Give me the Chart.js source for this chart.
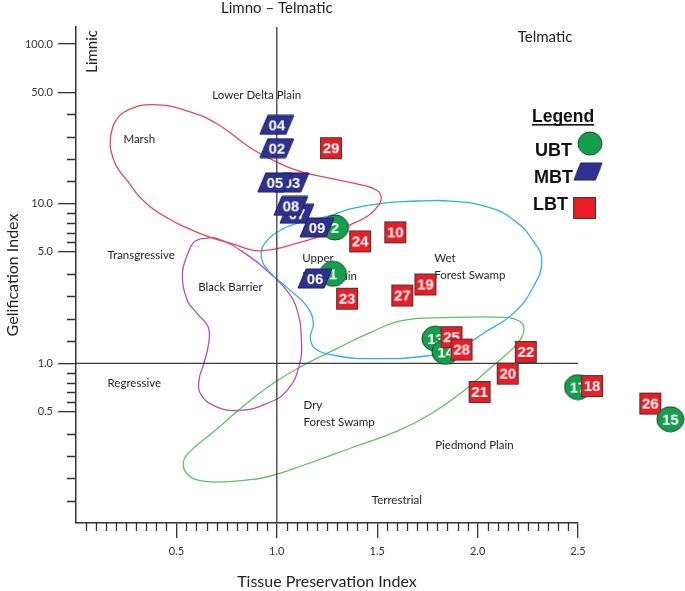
<!DOCTYPE html>
<html lang="en">
<head>
  <meta charset="UTF-8">
  <title>Gelification Index vs Tissue Preservation Index</title>
  <style>
    html, body { margin: 0; padding: 0; background: #fff; }
    #chart { display: block; }
  </style>
</head>
<body>
  <canvas id="chart" width="685" height="591"></canvas>

  <script src="https://cdn.jsdelivr.net/npm/chart.js"></script>
  <script>
    // ---- values ----
    // UBT samples (green circles)
    const ubtLabels = ['2', '1', '13', '14', '17', '15'];
    const ubtTPI    = [1.29, 1.28, 1.79, 1.84, 2.50, 2.96];
    const ubtGI     = [7.1, 3.64, 1.43, 1.18, 0.71, 0.447];
    const ubtFront  = ['15'];            // this one sits over the LBT square next to it

    // MBT samples (blue parallelograms)
    const mbtLabels = ['04', '02', '03', '05', '07', '08', '09', '06'];
    const mbtTPI    = [1.00, 1.00, 1.075, 0.99, 1.10, 1.07, 1.20, 1.19];
    const mbtGI     = [31.2, 22.3, 13.6, 13.6, 8.66, 9.7, 7.1, 3.4];

    // LBT samples (red squares)
    const lbtLabels = ['29', '10', '24', '23', '27', '19', '25', '28', '22', '20', '21', '18', '26'];
    const lbtTPI    = [1.27, 1.59, 1.415, 1.35, 1.625, 1.74, 1.87, 1.92, 2.24, 2.15, 2.01, 2.57, 2.86];
    const lbtGI     = [22.3, 6.62, 5.81, 2.54, 2.66, 3.12, 1.46, 1.22, 1.18, 0.862, 0.662, 0.721, 0.56];

    // facies envelopes (closed outlines)
    const marshTPI = [0.172, 0.197, 0.261, 0.38, 0.555, 0.704, 0.868, 0.958, 1.092, 1.256, 1.425, 1.50, 1.52, 1.505, 1.455, 1.356, 1.226, 1.092, 1.00, 0.893, 0.78, 0.619, 0.420, 0.321, 0.256, 0.20, 0.172, 0.172];
    const marshGI  = [26.6, 33.0, 38.7, 41.8, 38.1, 31.6, 22.4, 19.4, 16.3, 14.5, 13.1, 12.1, 10.9, 9.72, 8.41, 7.29, 6.31, 5.62, 5.23, 5.09, 5.6, 6.49, 8.66, 10.9, 13.9, 17.3, 22.1, 26.6];

    const wetTPI = [1.699, 1.530, 1.366, 1.266, 1.117, 1.032, 0.943, 0.923, 0.958, 1.057, 1.147, 1.182, 1.167, 1.197, 1.291, 1.465, 1.764, 1.913, 2.027, 2.177, 2.276, 2.320, 2.276, 2.192, 2.062, 1.863, 1.699];
    const wetGI  = [10.4, 10.1, 9.30, 8.41, 7.61, 6.98, 5.70, 4.66, 3.81, 2.94, 2.30, 1.80, 1.43, 1.22, 1.12, 1.07, 1.12, 1.26, 1.54, 2.05, 2.99, 4.4, 5.87, 7.7, 9.44, 10.4, 10.4];

    const barrierTPI = [0.619, 0.704, 0.858, 0.978, 1.057, 1.102, 1.122, 1.112, 1.052, 0.953, 0.818, 0.694, 0.619, 0.614, 0.634, 0.659, 0.659, 0.604, 0.555, 0.530, 0.555, 0.585, 0.619];
    const barrierGI  = [6.04, 6.04, 4.73, 3.55, 2.78, 2.14, 1.43, 0.972, 0.678, 0.562, 0.508, 0.538, 0.649, 0.806, 0.972, 1.30, 1.68, 2.05, 2.48, 3.65, 4.80, 5.70, 6.04];

    const dryTPI = [1.878, 2.127, 2.211, 2.231, 2.201, 2.137, 2.062, 1.928, 1.764, 1.600, 1.366, 1.132, 0.968, 0.794, 0.634, 0.555, 0.535, 0.570, 0.684, 0.803, 0.968, 1.132, 1.301, 1.465, 1.629, 1.878];
    const dryGI  = [1.94, 1.94, 1.83, 1.61, 1.35, 1.12, 0.931, 0.668, 0.480, 0.376, 0.294, 0.230, 0.197, 0.183, 0.183, 0.202, 0.241, 0.282, 0.371, 0.501, 0.729, 0.972, 1.24, 1.56, 1.86, 1.94];

    // region captions
    const regionText = ['Lower Delta Plain', 'Marsh', 'Transgressive', 'Black Barrier', 'Regressive', 'Upper', 'Delta Plain',
                        'Wet', 'Forest Swamp', 'Dry', 'Forest Swamp', 'Piedmond Plain', 'Terrestrial'];
    const regionTPI  = [0.679, 0.236, 0.157, 0.609, 0.157, 1.127, 1.127, 1.784, 1.784, 1.133, 1.133, 1.789, 1.473];
    const regionGI   = [48.0, 25.5, 4.73, 2.98, 0.75, 4.53, 3.5, 4.53, 3.55, 0.547, 0.430, 0.307, 0.139];

    // axes
    const xTicks = [0.5, 1.0, 1.5, 2.0, 2.5];
    const yTicks = [0.5, 1, 5, 10, 50, 100];
    const xMin = 0, xMax = 2.5;
    const yMin = 0.1, yMax = 128;
    const refTPI = 1.0, refGI = 1.0;   // the two dividing lines

    const FONT = 'Lato, "Open Sans", sans-serif';
    const BOLD = '"Liberation Sans", Arial, sans-serif';

    // marker images with the sample number written inside
    function markerCanvas(kind, text) {
      const c = document.createElement('canvas');
      let w = 24, h = 24;
      if (kind === 'ubt') { w = 29; h = 27; }
      if (kind === 'mbt') { w = 36; h = 21; }
      c.width = w; c.height = h;
      const g = c.getContext('2d');
      g.lineWidth = 1;
      if (kind === 'ubt') {
        g.beginPath();
        g.ellipse(w / 2, h / 2, w / 2 - 1, h / 2 - 1, 0, 0, Math.PI * 2);
        g.fillStyle = '#12a04b'; g.fill();
        g.strokeStyle = '#2d3a30'; g.stroke();
      } else if (kind === 'mbt') {
        g.beginPath();
        g.moveTo(9, 1); g.lineTo(w - 1, 1); g.lineTo(w - 9, h - 1); g.lineTo(1, h - 1); g.closePath();
        g.fillStyle = '#2e3192'; g.fill();
        g.strokeStyle = '#1d1f5e'; g.stroke();
      } else {
        g.fillStyle = '#ec1c24'; g.fillRect(1, 1, w - 2, h - 2);
        g.strokeStyle = '#3a3a3a'; g.strokeRect(1.5, 1.5, w - 3, h - 3);
      }
      if (text) {
        g.fillStyle = '#fff';
        g.font = 'bold 15px ' + BOLD;
        g.textAlign = 'center';
        g.textBaseline = 'middle';
        g.fillText(text, w / 2, h / 2 + 1);
      }
      return c;
    }

    const pts = (xs, ys) => xs.map((v, i) => ({ x: v, y: ys[i] }));

    function markerSet(kind, labels, xs, ys, order) {
      const icons = labels.map(t => markerCanvas(kind, t));
      return {
        label: kind,
        data: pts(xs, ys),
        order: order,
        clip: false,
        showLine: false,
        pointStyle: ctx => icons[ctx.dataIndex],
        pointRadius: 120,          // big radius only so that points past the axis end are still drawn
        pointHoverRadius: 120,
        pointBorderWidth: 0,
        backgroundColor: 'transparent',
        borderColor: 'transparent'
      };
    }

    function outline(xs, ys, color) {
      return {
        data: pts(xs, ys),
        showLine: true,
        borderColor: color,
        borderWidth: 1.3,
        pointRadius: 0,
        tension: 0.45,
        fill: false,
        order: 10
      };
    }

    function refLine(data) {
      return { data: data, showLine: true, borderColor: '#3d3d3d', borderWidth: 1.3, pointRadius: 0, order: 9 };
    }

    const ubtBackIdx  = ubtLabels.map((t, i) => i).filter(i => !ubtFront.includes(ubtLabels[i]));
    const ubtFrontIdx = ubtLabels.map((t, i) => i).filter(i => ubtFront.includes(ubtLabels[i]));
    const pick = (arr, idx) => idx.map(i => arr[i]);

    // minor ticks, captions, legend
    const extras = {
      id: 'extras',
      beforeDatasetsDraw(chart) {
        const { ctx, scales: { x, y } } = chart;
        ctx.save();
        ctx.fillStyle = '#1e1e1e';
        ctx.font = '11.5px ' + FONT;
        ctx.textAlign = 'left';
        ctx.textBaseline = 'middle';
        regionText.forEach((t, i) => {
          ctx.fillText(t, x.getPixelForValue(regionTPI[i]), y.getPixelForValue(regionGI[i]));
        });
        ctx.restore();
      },
      afterDraw(chart) {
        const { ctx, chartArea: a, scales: { x, y } } = chart;
        ctx.save();
        ctx.strokeStyle = '#333';
        ctx.lineWidth = 1.3;
        ctx.beginPath();
        // y minor ticks: every labelled step split in five
        const segs = [yMin].concat(yTicks.slice(0, -1));
        for (let s = 0; s < segs.length; s++) {
          const lo = segs[s], hi = yTicks[s];
          if (hi > 50) break;
          for (let k = 1; k < 5; k++) {
            const py = Math.round(y.getPixelForValue(lo * Math.pow(hi / lo, k / 5))) + 0.5;
            ctx.moveTo(a.left - 9, py); ctx.lineTo(a.left, py);
          }
        }
        // x minor ticks every 0.05
        for (let k = 1; k < 50; k++) {
          if (k % 10 === 0) continue;
          const px = Math.round(x.getPixelForValue(k * 0.05)) + 0.5;
          ctx.moveTo(px, a.bottom); ctx.lineTo(px, a.bottom + 8);
        }
        ctx.stroke();

        // outer captions
        ctx.fillStyle = '#222';
        ctx.font = '15px ' + FONT;
        ctx.textBaseline = 'middle';
        ctx.textAlign = 'center';
        ctx.fillText('Limno \u2013 Telmatic', x.getPixelForValue(refTPI), a.top - 19);
        ctx.textAlign = 'left';
        ctx.fillText('Telmatic', x.getPixelForValue(2.2), y.getPixelForValue(110));
        ctx.save();
        ctx.translate(x.getPixelForValue(0.082), y.getPixelForValue(90));
        ctx.rotate(-Math.PI / 2);
        ctx.textAlign = 'center';
        ctx.fillText('Limnic', 0, 0);
        ctx.restore();

        // legend box
        const lx = a.right - 46;
        ctx.fillStyle = '#111';
        ctx.textBaseline = 'alphabetic';
        ctx.textAlign = 'left';
        ctx.font = 'bold 17.5px ' + BOLD;
        ctx.fillText('Legend', lx, 122);
        const lw = ctx.measureText('Legend').width;
        ctx.fillRect(lx, 124, lw, 1.6);
        ctx.font = 'bold 18px ' + BOLD;
        ctx.fillText('UBT', lx + 3, 155.5);
        ctx.fillText('MBT', lx + 2, 183);
        ctx.fillText('LBT', lx + 1, 209.5);
        const iu = markerCanvas('ubt', ''), im = markerCanvas('mbt', ''), il = markerCanvas('lbt', '');
        ctx.drawImage(iu, lx + 45, 131, 26, 25);
        ctx.drawImage(im, lx + 41, 162, 30, 19);
        ctx.drawImage(il, lx + 40, 196, 25, 24);
        ctx.restore();
      }
    };

    new Chart(document.getElementById('chart'), {
      type: 'scatter',
      data: {
        datasets: [
          outline(marshTPI, marshGI, '#e8474d'),
          outline(wetTPI, wetGI, '#2eb0e6'),
          outline(barrierTPI, barrierGI, '#b24fb6'),
          outline(dryTPI, dryGI, '#62c061'),
          refLine([{ x: refTPI, y: yMin }, { x: refTPI, y: yMax }]),
          refLine([{ x: xMin, y: refGI }, { x: xMax, y: refGI }]),
          markerSet('ubt', pick(ubtLabels, ubtBackIdx), pick(ubtTPI, ubtBackIdx), pick(ubtGI, ubtBackIdx), 6),
          markerSet('lbt', lbtLabels, lbtTPI, lbtGI, 4),
          markerSet('mbt', mbtLabels, mbtTPI, mbtGI, 3),
          markerSet('ubt', pick(ubtLabels, ubtFrontIdx), pick(ubtTPI, ubtFrontIdx), pick(ubtGI, ubtFrontIdx), 2)
        ]
      },
      options: {
        responsive: false,
        animation: false,
        events: [],
        layout: { autoPadding: false, padding: { top: 27, right: 107, left: 0, bottom: 0 } },
        plugins: { legend: { display: false }, tooltip: { enabled: false } },
        scales: {
          x: {
            type: 'linear',
            min: xMin,
            max: xMax,
            afterFit: s => { s.height = 68; },
            afterBuildTicks: s => { s.ticks = xTicks.map(v => ({ value: v })); },
            grid: { display: true, drawOnChartArea: false, drawTicks: true, tickLength: 15, color: '#333', lineWidth: 1.3 },
            border: { display: true, color: '#333', width: 1.5 },
            ticks: { callback: v => v.toFixed(1), padding: 7, autoSkip: false, maxRotation: 0,
                     color: '#333', font: { family: FONT, size: 11 } },
            title: { display: true, text: 'Tissue Preservation Index', color: '#222',
                     font: { family: FONT, size: 16 }, padding: { top: 0, bottom: 0 } }
          },
          y: {
            type: 'logarithmic',
            min: yMin,
            max: yMax,
            afterFit: s => { s.width = 76; },
            afterBuildTicks: s => { s.ticks = yTicks.map(v => ({ value: v })); },
            grid: { display: true, drawOnChartArea: false, drawTicks: true, tickLength: 18, color: '#333', lineWidth: 1.3 },
            border: { display: true, color: '#333', width: 1.5 },
            ticks: { callback: v => Number(v).toFixed(1), padding: 5, autoSkip: false,
                     color: '#333', font: { family: FONT, size: 11 } },
            title: { display: true, text: 'Gelification Index', color: '#222',
                     font: { family: FONT, size: 16 }, padding: { top: 3, bottom: 0 } }
          }
        }
      },
      plugins: [extras]
    });
  </script>
</body>
</html>
